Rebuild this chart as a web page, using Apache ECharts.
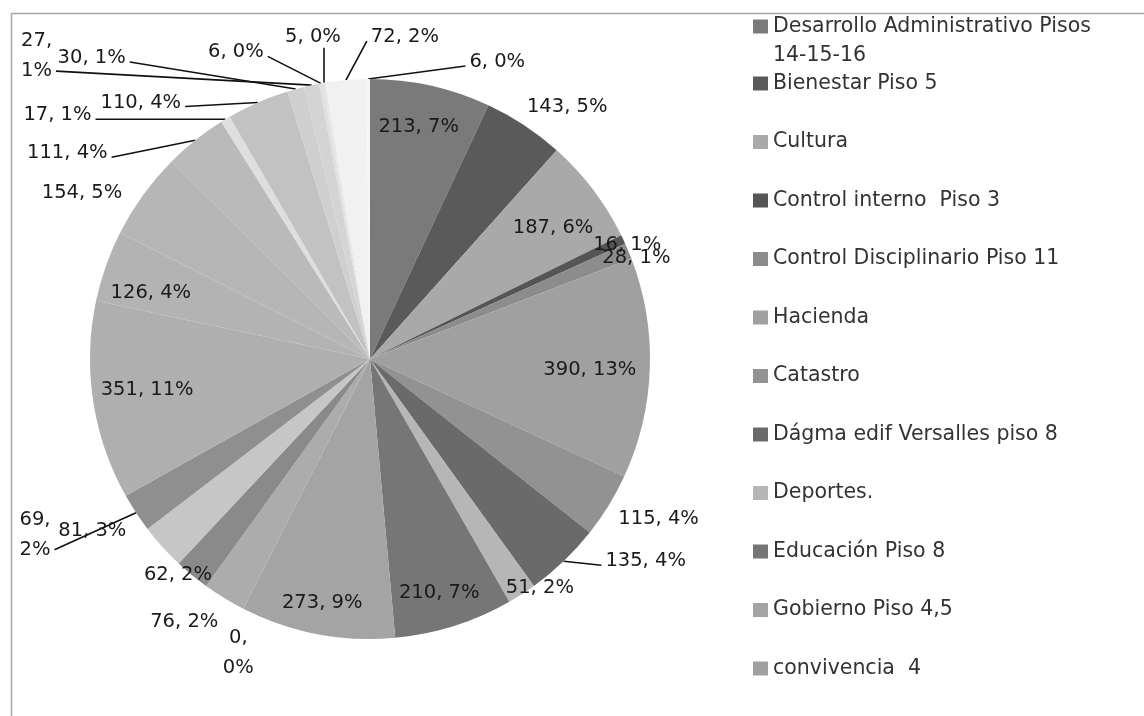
<!DOCTYPE html>
<html><head><meta charset="utf-8">
<script src="https://cdn.jsdelivr.net/npm/echarts@6/dist/echarts.min.js"></script>
<style>html,body{margin:0;padding:0;background:#fff}#c{width:1144px;height:716px}</style>
</head><body><div id="c"></div>
<script>
// Legend categories (only the first 12 are named in the original legend)
const categories = ['Desarrollo Administrativo Pisos 14-15-16','Bienestar Piso 5','Cultura','Control interno  Piso 3','Control Disciplinario Piso 11','Hacienda','Catastro','Dágma edif Versalles piso 8','Deportes.','Educación Piso 8','Gobierno Piso 4,5','convivencia  4'];
// Slice values, clockwise from 12 o'clock
const values = [213,143,187,16,28,390,115,135,51,210,273,0,76,62,81,69,351,126,154,111,17,110,30,27,6,5,72,6];

// ---- styling (greys of the scanned original) ----
const greys = ['#7a7a7a','#5a5a5a','#a9a9a9','#555555','#8c8c8c','#a0a0a0','#929292','#6a6a6a','#b6b6b6','#767676','#a4a4a4','#a0a0a0',
               '#acacac','#8a8a8a','#c6c6c6','#8f8f8f','#afafaf','#b3b3b3','#b6b6b6','#bababa','#dedede','#c2c2c2','#cfcfcf','#d4d4d4','#e0e0e0','#e6e6e6','#f1f1f1','#f6f6f6'];
const wrapIdx = [11,15,23];
const leaderIdx = [7,15,19,20,21,22,23,24,25,26,27];
// label placement: offset of the label centre from the slice's outer edge point (px)
const labelOffsets = [[-12,41],[43,-18],[-40,38],[4,5],[8,7],[-60,2],[50,13],[82,0],[18,-6],[-15,-33],[5,-31],
  [-5,44],[-40,24],[-14,0],[-70,-16],[-101,22],[54,-11],[45,27],[-61,-2],[-128,13],[-168,-4],[-117,0],
  [-204,-31],[-275,-29],[-85,-31],[-11,-46],[59,-43],[129,-17]];

const CX = 370, CY = 359, R = 280;
const total = values.reduce((a, b) => a + b, 0);
const edge = [];
let cum = 0;
values.forEach(v => {
  const a = (cum + v / 2) / total * 2 * Math.PI;
  edge.push([CX + R * Math.sin(a), CY - R * Math.cos(a)]);
  cum += v;
});

const data = values.map((v, i) => ({
  name: i < categories.length ? categories[i] : ' '.repeat(i),
  value: v,
  itemStyle: { color: greys[i] },
  labelLine: { show: leaderIdx.includes(i) }
}));

const chart = echarts.init(document.getElementById('c'), null, {renderer: 'canvas'});
const font = 'DejaVu Sans';
const legendText = { fontFamily: font, fontSize: 20.5, color: '#333' };
chart.setOption({
  animation: false,
  backgroundColor: '#fff',
  graphic: [{ type: 'rect', left: 9, top: 11, shape: { width: 1300, height: 900 }, style: { fill: 'none', stroke: '#a8a8a8', lineWidth: 1.5 }, silent: true }],
  legend: [{
    data: [categories[0]], orient: 'vertical', left: 753, top: -17, padding: 0,
    itemWidth: 15, itemHeight: 14, icon: 'rect',
    formatter: n => ' \n' + n.replace(' 14-15-16', '\n14-15-16'),
    textStyle: Object.assign({ lineHeight: 29 }, legendText)
  }, {
    data: categories.slice(1), orient: 'vertical', left: 753, top: 73, padding: 0,
    itemWidth: 15, itemHeight: 14, itemGap: 37.5, icon: 'rect',
    textStyle: Object.assign({ lineHeight: 20 }, legendText)
  }],
  series: [{
    type: 'pie', center: [CX, CY], radius: R, startAngle: 90, clockwise: true,
    avoidLabelOverlap: false, minShowLabelAngle: 0, stillShowZeroSum: true,
    itemStyle: { borderWidth: 0 },
    label: {
      position: 'outside', fontFamily: font, fontSize: 19.5, color: '#1a1a1a', lineHeight: 30,
      formatter: p => p.value + (wrapIdx.includes(p.dataIndex) ? ',\n' : ', ') + Math.round(p.percent) + '%'
    },
    labelLine: { length: 10, length2: 10, lineStyle: { color: '#111', width: 1.6 } },
    labelLayout: p => {
      const i = p.dataIndex;
      const e = edge[i], o = labelOffsets[i];
      const lx = e[0] + o[0], ly = e[1] + o[1];
      const w = p.labelRect.width, h = p.labelRect.height;
      const out = { x: lx, y: ly, align: 'center', verticalAlign: 'middle' };
      if (leaderIdx.includes(i)) {
        const yEnd = ly + (wrapIdx.includes(i) ? h / 4 : 4);
        let end;
        if (Math.abs(o[0]) < 20) end = [e[0], ly + h / 2 - 4];
        else if (o[0] < 0) end = [lx + w / 2 + 4, yEnd];
        else end = [lx - w / 2 - 4, yEnd];
        out.labelLinePoints = [e, [(e[0] + end[0]) / 2, (e[1] + end[1]) / 2], end];
      }
      return out;
    },
    data: data
  }]
});
</script></body></html>
